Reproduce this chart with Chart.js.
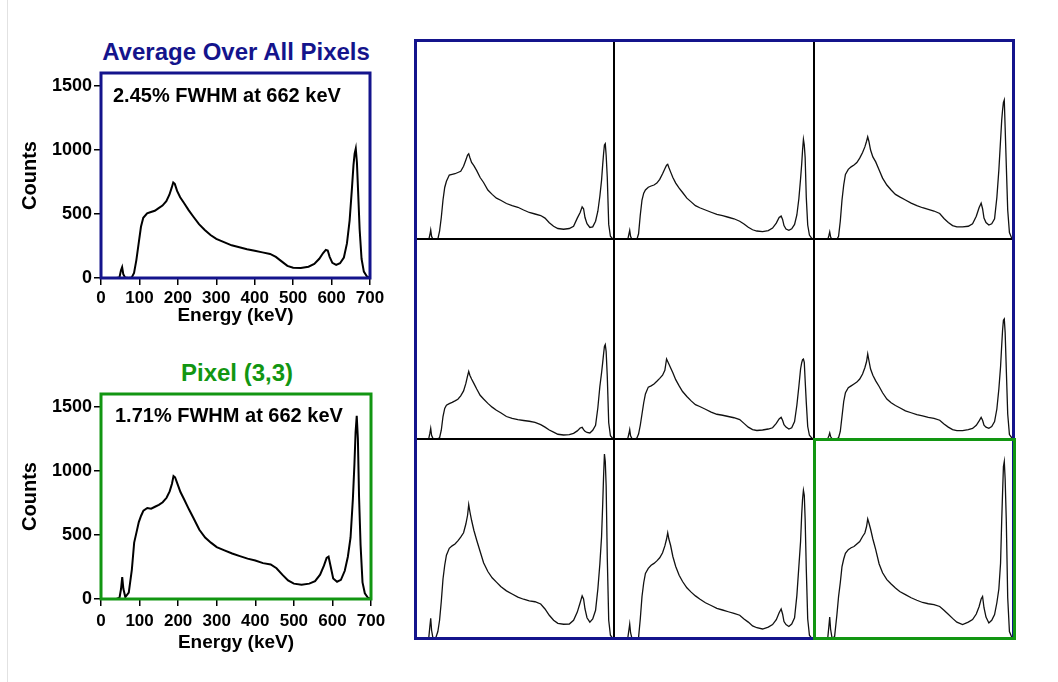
<!DOCTYPE html>
<html>
<head>
<meta charset="utf-8">
<script src="https://cdn.jsdelivr.net/npm/chart.js@4.4.1/dist/chart.umd.min.js"></script>
<style>
  body { margin: 0; width: 1058px; height: 682px; background: #fff; position: relative; overflow: hidden;
         font-family: 'Liberation Sans', Arial, sans-serif; }
  canvas, .lbl, .rule, .frame { position: absolute; }
  .lbl { white-space: nowrap; font-weight: bold; }
  .title { font-size: 24px; transform: translate(-50%, -50%); }
  .note { font-size: 20px; color: #000; transform: translateY(-50%); }
  .rule { background: #000; }
  .frame { box-sizing: border-box; border: 3px solid; pointer-events: none; }
</style>
</head>
<body>
<div class="rule" style="left:7px;top:0;width:1px;height:682px;background:#e2e2e2"></div>

<div class="lbl title" style="left:236px;top:52px;color:#14148c">Average Over All Pixels</div>
<canvas id="avgChart" width="380" height="274" style="left:10px;top:56px"></canvas>
<div class="lbl note" style="left:113px;top:95px">2.45% FWHM at 662 keV</div>

<div class="lbl title" style="left:237px;top:373px;color:#129612">Pixel (3,3)</div>
<canvas id="pixChart" width="381" height="280" style="left:10px;top:377px"></canvas>
<div class="lbl note" style="left:115px;top:415px">1.71% FWHM at 662 keV</div>

<div id="grid"></div>

<script>
// energy bins (keV) shared by every spectrum
const energyKeV = [0, 40, 48, 52, 55, 58, 63, 72, 80, 86,
  92, 98, 104, 110, 120, 130, 140, 150, 160, 170,
  178, 184, 188, 192, 198, 206, 216, 228, 240, 255,
  270, 285, 300, 320, 340, 360, 380, 400, 420, 440,
  455, 470, 485, 500, 520, 540, 555, 568, 578, 585,
  590, 595, 602, 612, 622, 632, 640, 647, 653, 657,
  660, 663, 666, 669, 673, 678, 684, 692, 700];

const energyTicks = [0, 100, 200, 300, 400, 500, 600, 700];
const countTicks = [0, 500, 1000, 1500];

// Average over all pixels
const avgCounts = [0, 0, 5, 60, 85, 30, 3, 0, 5, 40,
  140, 270, 400, 470, 505, 515, 525, 545, 565, 600,
  650, 705, 745, 735, 680, 630, 585, 530, 480, 420,
  375, 335, 305, 280, 255, 240, 225, 212, 200, 188,
  165, 130, 95, 80, 78, 88, 110, 150, 195, 220,
  215, 165, 118, 102, 115, 160, 270, 450, 700, 880,
  970, 1010, 900, 680, 380, 150, 50, 12, 0];

// Pixel (3,3)
const pixel33Counts = [0, 0, 10, 80, 170, 80, 15, 50, 230, 440,
  520, 600, 650, 690, 710, 705, 720, 735, 755, 790,
  840, 900, 960, 950, 900, 835, 775, 700, 630, 540,
  480, 440, 405, 380, 355, 335, 315, 300, 280, 270,
  240, 190, 145, 120, 112, 120, 140, 190, 260, 320,
  330, 260, 160, 135, 150, 220, 330, 480, 780, 1050,
  1300, 1430, 1250, 800, 420, 130, 45, 10, 0];

// 3x3 pixel map, row by row
const cellR1C1 = [0, 0, 3, 40, 80, 30, 3, 0, 8, 70,
  180, 320, 420, 470, 520, 525, 530, 540, 550, 590,
  640, 680, 690, 660, 620, 595, 555, 500, 460, 400,
  365, 335, 318, 292, 275, 262, 240, 220, 208, 196,
  175, 138, 110, 92, 86, 92, 110, 175, 220, 265,
  250, 180, 130, 100, 105, 150, 230, 350, 480, 605,
  690, 760, 770, 680, 500, 125, 30, 8, 0];
const cellR1C2 = [0, 0, 3, 45, 77, 30, 3, 0, 5, 50,
  200, 320, 375, 400, 422, 432, 440, 455, 485, 530,
  570, 598, 605, 580, 545, 500, 455, 415, 380, 335,
  305, 275, 258, 240, 222, 205, 195, 182, 170, 150,
  128, 102, 82, 72, 67, 75, 95, 135, 180, 192,
  165, 115, 88, 77, 90, 125, 200, 330, 490, 610,
  720, 805, 760, 660, 340, 120, 40, 13, 0];
const cellR1C3 = [0, 0, 3, 35, 64, 25, 3, 0, 5, 30,
  150, 320, 440, 525, 565, 585, 600, 620, 655, 700,
  745, 790, 825, 790, 720, 665, 625, 560, 495, 440,
  400, 365, 345, 320, 295, 275, 258, 245, 232, 212,
  172, 140, 115, 105, 105, 110, 130, 190, 260, 295,
  250, 175, 140, 120, 130, 170, 340, 560, 800, 960,
  1040, 1100, 1120, 900, 600, 240, 60, 15, 0];
const cellR2C1 = [0, 0, 3, 45, 85, 30, 3, 0, 3, 10,
  70, 180, 245, 270, 283, 293, 305, 318, 345, 385,
  445, 505, 540, 510, 480, 445, 400, 350, 320, 285,
  255, 230, 210, 180, 165, 155, 148, 142, 133, 115,
  95, 72, 55, 38, 32, 35, 45, 65, 88, 93,
  75, 62, 52, 48, 70, 110, 250, 420, 530, 613,
  680, 740, 755, 700, 500, 130, 27, 5, 0];
const cellR2C2 = [0, 0, 3, 40, 75, 25, 3, 0, 8, 40,
  110, 200, 290, 360, 415, 425, 440, 462, 485, 510,
  550, 640, 620, 600, 570, 530, 475, 425, 380, 340,
  305, 275, 260, 238, 215, 198, 190, 180, 170, 155,
  125, 95, 75, 68, 72, 80, 90, 125, 160, 173,
  150, 115, 95, 80, 90, 140, 270, 420, 560, 610,
  635, 640, 613, 470, 293, 100, 30, 8, 0];
const cellR2C3 = [0, 0, 3, 25, 48, 20, 3, 0, 3, 10,
  60, 180, 300, 370, 410, 425, 440, 455, 480, 520,
  570, 620, 680, 630, 560, 510, 465, 420, 370, 320,
  290, 268, 250, 225, 210, 195, 185, 173, 165, 150,
  120, 95, 75, 67, 67, 75, 85, 110, 145, 173,
  150, 110, 95, 85, 100, 140, 240, 400, 580, 750,
  870, 950, 960, 853, 560, 200, 35, 10, 0];
const cellR3C1 = [0, 0, 5, 100, 165, 70, 5, 5, 60, 150,
  300, 480, 590, 670, 725, 745, 760, 785, 815, 850,
  920, 990, 1075, 1020, 950, 870, 790, 700, 610, 540,
  490, 455, 420, 385, 360, 335, 318, 305, 298, 280,
  240, 190, 150, 125, 118, 120, 150, 215, 290, 345,
  320, 240, 170, 135, 160, 230, 400, 600, 820, 1080,
  1300, 1480, 1420, 1227, 650, 150, 30, 5, 0];
const cellR3C2 = [0, 0, 3, 70, 120, 50, 3, 0, 3, 13,
  160, 340, 450, 525, 565, 590, 605, 625, 650, 690,
  745, 800, 850, 800, 750, 660, 580, 510, 460, 410,
  375, 345, 320, 290, 268, 245, 232, 218, 205, 190,
  160, 135, 105, 90, 80, 95, 115, 155, 210, 240,
  200, 140, 115, 100, 120, 170, 347, 580, 780, 1000,
  1120, 1190, 1150, 960, 560, 160, 30, 5, 0];
const cellR3C3 = [0, 0, 5, 100, 176, 80, 10, 18, 190, 340,
  450, 580, 640, 685, 715, 730, 740, 760, 780, 820,
  848, 900, 960, 930, 880, 800, 715, 600, 530, 475,
  440, 408, 380, 355, 330, 310, 292, 282, 275, 260,
  230, 198, 165, 135, 115, 135, 155, 200, 260, 320,
  340, 250, 175, 128, 150, 195, 290, 400, 608, 950,
  1170, 1380, 1420, 1280, 950, 330, 60, 15, 0];

const cellRows = [
  [cellR1C1, cellR1C2, cellR1C3],
  [cellR2C1, cellR2C2, cellR2C3],
  [cellR3C1, cellR3C2, cellR3C3],
];

const FONT = "'Liberation Sans', Arial, sans-serif";
const BLUE = '#14148c';
const GREEN = '#129612';

const toPoints = (counts) => energyKeV.map((e, i) => ({ x: e, y: counts[i] }));

// coloured box round the plot area
const frameBox = {
  id: 'frameBox',
  afterDatasetsDraw(chart, args, opts) {
    if (!opts.color) return;
    const { ctx, chartArea: a } = chart;
    ctx.save();
    ctx.strokeStyle = opts.color;
    ctx.lineWidth = 3;
    ctx.strokeRect(a.left, a.top, a.right - a.left, a.bottom - a.top);
    ctx.restore();
  }
};

// big spectrum with axes
const makeMainChart = (id, counts, color, xAxisHeight, xTickPad) => {
  const ctx = document.getElementById(id).getContext('2d');
  return new Chart(ctx, {
    type: 'line',
    data: {
      datasets: [{
        data: toPoints(counts),
        borderColor: '#000',
        borderWidth: 2,
        pointRadius: 0,
        tension: 0,
        fill: false,
      }],
    },
    plugins: [frameBox],
    options: {
      responsive: false,
      animation: false,
      layout: { padding: { top: 17, right: 20, left: 0, bottom: 0 } },
      plugins: {
        legend: { display: false },
        tooltip: { enabled: false },
        frameBox: { color: color },
      },
      scales: {
        x: {
          type: 'linear',
          min: 0,
          max: 700,
          afterBuildTicks: (s) => { s.ticks = energyTicks.map((v) => ({ value: v })); },
          afterFit: (s) => { s.height = xAxisHeight; },
          grid: { drawOnChartArea: false, drawTicks: true, tickLength: 7, color: '#000', lineWidth: 1.5 },
          border: { display: false },
          ticks: {
            color: '#000', padding: xTickPad, maxRotation: 0, autoSkip: false,
            font: { family: FONT, size: 17, weight: 'bold' },
            callback: (v) => String(v),
          },
          title: {
            display: true, text: 'Energy (keV)', color: '#000',
            font: { family: FONT, size: 19, weight: 'bold' },
            padding: { top: 0, bottom: 3 },
          },
        },
        y: {
          min: 0,
          max: 1600,
          afterBuildTicks: (s) => { s.ticks = countTicks.map((v) => ({ value: v })); },
          afterFit: (s) => { s.width = 91; },
          grid: { drawOnChartArea: false, drawTicks: true, tickLength: 7, color: '#000', lineWidth: 1.5 },
          border: { display: false },
          ticks: {
            color: '#000', padding: 2,
            font: { family: FONT, size: 18, weight: 'bold' },
            callback: (v) => String(v),
          },
          title: {
            display: true, text: 'Counts', color: '#000',
            font: { family: FONT, size: 20, weight: 'bold' },
            padding: { top: 8, bottom: 0 },
          },
        },
      },
    },
  });
};

makeMainChart('avgChart', avgCounts, BLUE, 52, 3);
makeMainChart('pixChart', pixel33Counts, GREEN, 58, 5);

// 3x3 map of small spectra
const cellLeft = [415, 614, 814];
const cellTop = [40, 239, 439];
const grid = document.getElementById('grid');

cellRows.forEach((row, r) => {
  row.forEach((counts, c) => {
    const cv = document.createElement('canvas');
    cv.width = 200;
    cv.height = 200;
    cv.style.left = cellLeft[c] + 'px';
    cv.style.top = cellTop[r] + 'px';
    grid.appendChild(cv);
    new Chart(cv.getContext('2d'), {
      type: 'line',
      data: {
        datasets: [{
          data: toPoints(counts),
          borderColor: '#111',
          borderWidth: 1.3,
          pointRadius: 0,
          tension: 0,
          fill: false,
        }],
      },
      options: {
        responsive: false,
        animation: false,
        layout: { padding: 0 },
        plugins: { legend: { display: false }, tooltip: { enabled: false } },
        scales: {
          x: { type: 'linear', min: 0, max: 700, display: false },
          y: { min: 0, max: 1600, display: false },
        },
      },
    });
  });
});

// dividing lines and frames of the map
const addDiv = (cls, css) => {
  const d = document.createElement('div');
  d.className = cls;
  Object.assign(d.style, css);
  grid.appendChild(d);
};
[614, 814].forEach((x) => addDiv('rule', { left: (x - 0.75) + 'px', top: '40px', width: '1.5px', height: '598px' }));
[239, 439].forEach((y) => addDiv('rule', { left: '415px', top: (y - 0.75) + 'px', width: '598px', height: '1.5px' }));
addDiv('frame', { left: '413.5px', top: '38.5px', width: '601px', height: '601px', borderColor: BLUE });
addDiv('frame', { left: '812.5px', top: '437.5px', width: '203px', height: '202px', borderColor: GREEN });
</script>
</body>
</html>
